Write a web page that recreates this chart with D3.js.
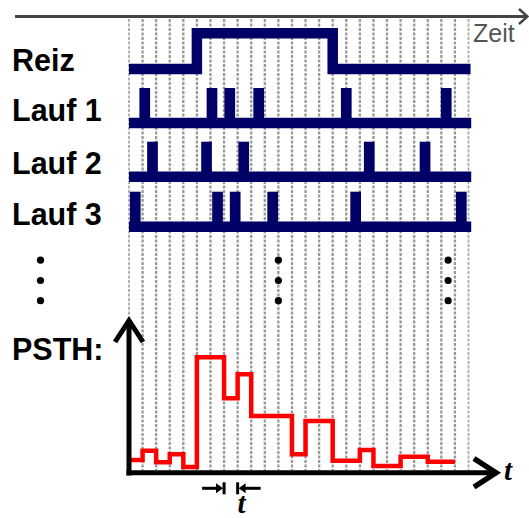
<!DOCTYPE html>
<html>
<head>
<meta charset="utf-8">
<script src="https://cdn.jsdelivr.net/npm/d3@7/dist/d3.min.js"></script>
<style>
  body { margin: 0; background: #fff; }
  svg { display: block; }
</style>
</head>
<body>
<svg width="529" height="518"></svg>
<script>
// Data: times in bin units (one bin = one dashed grid interval)
const nBins = 25;
const stimulus = [[0, 0], [5, 0], [5, 1], [15, 1], [15, 0], [25.15, 0]];
const trialLabels = ["Lauf 1", "Lauf 2", "Lauf 3"];
const lauf1 = [1.16, 6.11, 7.42, 9.55, 16.0, 23.36];
const lauf2 = [1.73, 5.71, 8.45, 17.69, 21.8];
const lauf3 = [0.46, 6.52, 7.82, 10.58, 16.69, 24.47];
const trials = [lauf1, lauf2, lauf3];
// PSTH: counts per bin, relative to the maximum (100)
const psth = [11, 19, 9, 16, 5, 100, 100, 64.5, 85.3, 49.1, 49.1, 49.1, 16,
              44.8, 44.8, 10.4, 10.4, 19.7, 5.8, 5.8, 13.9, 13.9, 9.5, 9.5];
const ellipsisCols = [11, 23.5];

const svg = d3.select("svg");
const navy = "#000066";

// Scales
const x = d3.scaleLinear().domain([0, nBins]).range([129, 468.5]);
const rowY = [123, 176.7, 226.7];          // baseline of each trial row
const reizY = d3.scaleLinear().domain([0, 1]).range([69, 33.3]);
const yP = d3.scaleLinear().domain([0, 100]).range([472.7, 357.3]);

// Dashed bin grid
svg.append("g").selectAll("line")
  .data(d3.range(nBins + 1))
  .enter().append("line")
  .attr("x1", d => x(d)).attr("x2", d => x(d))
  .attr("y1", 19)
  .attr("y2", d => d === 0 ? 316 : 470)
  .attr("stroke", d => (d === 0 || d === nBins) ? "#aaa" : "#999")
  .attr("stroke-width", d => (d === 0 || d === nBins) ? 1.8 : 2.3)
  .attr("stroke-dasharray", "3,1.5");

// Time axis at the top
svg.append("line")
  .attr("x1", 15).attr("x2", 527).attr("y1", 16.5).attr("y2", 16.5)
  .attr("stroke", "#444").attr("stroke-width", 3);
svg.append("path")
  .attr("d", "M519,9 L527.5,16.5 L519,24")
  .attr("fill", "none").attr("stroke", "#444").attr("stroke-width", 2.5);
svg.append("text")
  .attr("x", 473).attr("y", 42)
  .attr("font-family", "Liberation Sans, Arial, sans-serif")
  .attr("font-size", 25).attr("fill", "#555")
  .text("Zeit");

// Row labels
const labelFont = "Liberation Sans, Arial, sans-serif";
const labels = [["Reiz", 71], [trialLabels[0], 121], [trialLabels[1], 174], [trialLabels[2], 225], ["PSTH:", 360]];
svg.append("g").selectAll("text")
  .data(labels)
  .enter().append("text")
  .attr("x", 12).attr("y", d => d[1])
  .attr("font-family", labelFont).attr("font-weight", "bold")
  .attr("font-size", 30.5).attr("fill", "#000")
  .text(d => d[0]);

// Stimulus trace
svg.append("path")
  .datum(stimulus)
  .attr("d", d3.line().x(d => x(d[0])).y(d => reizY(d[1])))
  .attr("fill", "none").attr("stroke", navy)
  .attr("stroke-width", 10.5).attr("stroke-linejoin", "miter");

// Spike trains
const spikeW = 10.7, spikeH = 35;
trials.forEach((spikes, i) => {
  const g = svg.append("g");
  g.append("line")
    .attr("x1", x(0)).attr("x2", x(25.2))
    .attr("y1", rowY[i]).attr("y2", rowY[i])
    .attr("stroke", navy).attr("stroke-width", 10.6);
  g.selectAll("rect")
    .data(spikes)
    .enter().append("rect")
    .attr("x", d => x(d) - spikeW / 2)
    .attr("y", rowY[i] - spikeH)
    .attr("width", spikeW)
    .attr("height", spikeH)
    .attr("fill", navy);
});

// Vertical ellipses
const dotYs = [260.2, 280.5, 300.7];
[40.5].concat(ellipsisCols.map(c => x(c))).forEach(cx => {
  svg.append("g").selectAll("circle")
    .data(dotYs)
    .enter().append("circle")
    .attr("cx", cx).attr("cy", d => d).attr("r", 3.6)
    .attr("fill", "#000");
});

// PSTH histogram
const steps = psth.map((v, i) => [i, v]).concat([[psth.length, psth[psth.length - 1]]]);
svg.append("path")
  .datum(steps)
  .attr("d", d3.line().x(d => x(d[0])).y(d => yP(d[1])).curve(d3.curveStepAfter))
  .attr("fill", "none").attr("stroke", "#ff0000")
  .attr("stroke-width", 4.5).attr("stroke-linejoin", "miter");

// PSTH axes
const axisG = svg.append("g").attr("stroke", "#000").attr("fill", "none");
axisG.append("line")
  .attr("x1", x(0)).attr("x2", x(0)).attr("y1", 320).attr("y2", 475.5)
  .attr("stroke-width", 5);
axisG.append("path")
  .attr("d", `M${x(0) - 14},342 L${x(0)},320.5 L${x(0) + 14},342`)
  .attr("stroke-width", 5);
axisG.append("line")
  .attr("x1", 126.5).attr("x2", 496).attr("y1", yP(0)).attr("y2", yP(0))
  .attr("stroke-width", 5);
axisG.append("path")
  .attr("d", `M474,458.5 L496,${yP(0)} L474,487`)
  .attr("stroke-width", 5.5);
svg.append("text")
  .attr("x", 504).attr("y", 480)
  .attr("font-family", "Liberation Serif, Times New Roman, serif")
  .attr("font-style", "italic").attr("font-weight", "bold")
  .attr("font-size", 29).attr("fill", "#000")
  .text("t");

// Bin width marker
const mY = 488.3;
const b0 = x(7), b1 = x(8);
const mk = svg.append("g").attr("stroke", "#000").attr("stroke-width", 3);
mk.append("line").attr("x1", b0 - 22).attr("x2", b0 - 5).attr("y1", mY).attr("y2", mY);
mk.append("line").attr("x1", b0).attr("x2", b0).attr("y1", mY - 6).attr("y2", mY + 6);
mk.append("line").attr("x1", b1 + 5).attr("x2", b1 + 23).attr("y1", mY).attr("y2", mY);
mk.append("line").attr("x1", b1).attr("x2", b1).attr("y1", mY - 6).attr("y2", mY + 6);
svg.append("path")
  .attr("d", `M${b0 - 8},${mY - 5} L${b0 - 1},${mY} L${b0 - 8},${mY + 5} Z`)
  .attr("fill", "#000");
svg.append("path")
  .attr("d", `M${b1 + 8},${mY - 5} L${b1 + 1},${mY} L${b1 + 8},${mY + 5} Z`)
  .attr("fill", "#000");
svg.append("text")
  .attr("x", b1 + 4).attr("y", 513)
  .attr("text-anchor", "middle")
  .attr("font-family", "Liberation Serif, Times New Roman, serif")
  .attr("font-style", "italic").attr("font-weight", "bold")
  .attr("font-size", 29).attr("fill", "#000")
  .text("t");
</script>
</body>
</html>
